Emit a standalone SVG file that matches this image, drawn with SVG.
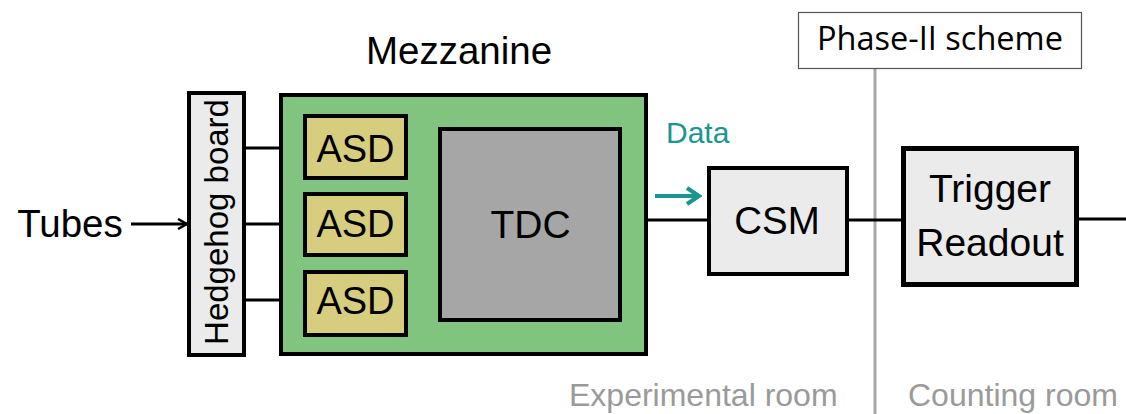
<svg xmlns="http://www.w3.org/2000/svg" width="1126" height="414" viewBox="0 0 1126 414">
  <defs>
    <style>
      .box { stroke: #000; stroke-width: 4; }
      .lbl { font-family: "Liberation Sans", Arial, sans-serif; fill: #000; text-anchor: middle; }
      .wire { stroke: #000; stroke-width: 3; fill: none; }
      .room { font-family: "Liberation Sans", Arial, sans-serif; fill: #9a9a9a; font-size: 32px; }
    </style>
    <marker id="arrBlack" viewBox="0 0 12 12" refX="11" refY="6" markerWidth="12" markerHeight="12" markerUnits="userSpaceOnUse" orient="auto">
      <path d="M2,1 L11,6 L2,11" fill="none" stroke="#000" stroke-width="2.5"/>
    </marker>
    <marker id="arrTeal" viewBox="0 0 20 20" refX="17" refY="10" markerWidth="20" markerHeight="20" markerUnits="userSpaceOnUse" orient="auto">
      <path d="M5,2 L17,10 L5,18" fill="none" stroke="#1a9690" stroke-width="4"/>
    </marker>
  </defs>
  <rect width="1126" height="414" fill="#fff"/>

  <!-- room divider -->
  <line x1="875" y1="69" x2="875" y2="414" stroke="#a8a8a8" stroke-width="3"/>

  <!-- connectors -->
  <g id="connectors">
    <line class="wire" x1="131" y1="224" x2="187" y2="224" marker-end="url(#arrBlack)"/>
    <line class="wire" x1="246" y1="148" x2="303" y2="148"/>
    <line class="wire" x1="246" y1="224" x2="303" y2="224"/>
    <line class="wire" x1="246" y1="300" x2="303" y2="300"/>
    <line class="wire" x1="408" y1="148" x2="438" y2="148"/>
    <line class="wire" x1="408" y1="224" x2="438" y2="224"/>
    <line class="wire" x1="408" y1="300" x2="438" y2="300"/>
    <line class="wire" x1="622" y1="220" x2="707" y2="220"/>
    <line class="wire" x1="849" y1="220" x2="901" y2="220"/>
    <line class="wire" x1="1079" y1="219" x2="1126" y2="219"/>
    <line x1="655" y1="196" x2="699" y2="196" stroke="#1a9690" stroke-width="4" marker-end="url(#arrTeal)"/>
  </g>

  <text class="lbl" x="70" y="237" font-size="38.5">Tubes</text>

  <g id="hedgehog">
    <rect class="box" x="189" y="93" width="55" height="262" fill="#ebebeb"/>
    <text class="lbl" x="0" y="0" font-size="33" transform="translate(228 222) rotate(-90)">Hedgehog board</text>
  </g>

  <g id="mezzanine">
    <text class="lbl" x="459" y="64" font-size="38.5">Mezzanine</text>
    <rect class="box" x="281" y="95" width="365" height="259" fill="#80c480"/>
  </g>

  <g id="asd1">
    <rect class="box" x="305" y="116" width="101" height="62" fill="#d7cd7f"/>
    <text class="lbl" x="355.5" y="162" font-size="38">ASD</text>
  </g>
  <g id="asd2">
    <rect class="box" x="305" y="194" width="101" height="61" fill="#d7cd7f"/>
    <text class="lbl" x="355.5" y="237" font-size="38">ASD</text>
  </g>
  <g id="asd3">
    <rect class="box" x="305" y="272" width="101" height="63" fill="#d7cd7f"/>
    <text class="lbl" x="355.5" y="314" font-size="38">ASD</text>
  </g>

  <g id="tdc">
    <rect class="box" x="440" y="129" width="180" height="191" fill="#a6a6a6"/>
    <text class="lbl" x="530.5" y="238" font-size="39">TDC</text>
  </g>

  <text x="666" y="143" font-family="'Liberation Sans', Arial, sans-serif" font-size="30" fill="#1a9690">Data</text>

  <g id="csm">
    <rect class="box" x="709" y="168" width="138" height="106" fill="#ebebeb"/>
    <text class="lbl" x="777" y="234" font-size="38.5">CSM</text>
  </g>

  <g id="trigger-readout">
    <rect x="903.5" y="148.5" width="173" height="136" fill="#ebebeb" stroke="#000" stroke-width="5"/>
    <text class="lbl" x="990" y="202" font-size="39">Trigger</text>
    <text class="lbl" x="990" y="256" font-size="39">Readout</text>
  </g>

  <g id="phase2">
    <rect x="798.5" y="12.5" width="283" height="56" fill="#fff" stroke="#555" stroke-width="1.2"/>
    <text x="940" y="50" font-family="'Open Sans', Lato, sans-serif" font-size="32.5" fill="#000" text-anchor="middle">Phase-II scheme</text>
  </g>

  <text class="room" x="569" y="406">Experimental room</text>
  <text class="room" x="908" y="406">Counting room</text>
</svg>
